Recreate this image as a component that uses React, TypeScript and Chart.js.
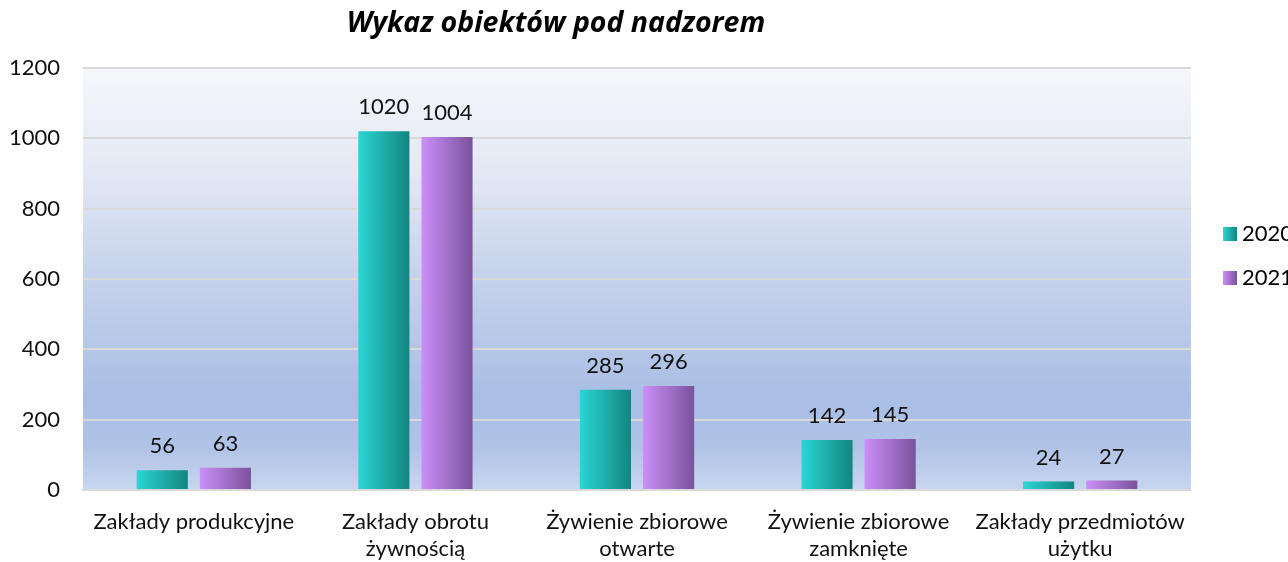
import React, { useEffect, useRef } from "react";
import { Chart, registerables } from "chart.js";

Chart.register(...registerables);

const title = "Wykaz obiektów pod nadzorem";
const categories: (string | string[])[] = [
  "Zakłady produkcyjne",
  ["Zakłady obrotu", "żywnością"],
  ["Żywienie zbiorowe", "otwarte"],
  ["Żywienie zbiorowe", "zamknięte"],
  ["Zakłady przedmiotów", "użytku"],
];
const seriesLabels = ["2020", "2021"];
const values2020 = [56, 1020, 285, 142, 24];
const values2021 = [63, 1004, 296, 145, 27];
const yMin = 0;
const yMax = 1200;
const yStep = 200;

const FONT = "Lato, 'Open Sans', sans-serif";
const TITLE_FONT = "'Open Sans', Lato, sans-serif";
const CAT_PCT = 0.57;
const BAR_PCT = 0.81;
const gradStops = [
  ["#2ad6d4", "#138580"],
  ["#cc8ff9", "#7a529c"],
];

function makeBox(colors: string[]) {
  const c = document.createElement("canvas");
  c.width = 14;
  c.height = 14;
  const g = c.getContext("2d")!;
  const lg = g.createLinearGradient(0, 0, 14, 0);
  lg.addColorStop(0, colors[0]);
  lg.addColorStop(1, colors[1]);
  g.fillStyle = lg;
  g.fillRect(0, 0, 14, 14);
  return c;
}

function barFill(ctx: any) {
  const chart = ctx.chart;
  const colors = gradStops[ctx.datasetIndex] || gradStops[0];
  const xs = chart.scales && chart.scales.x;
  if (!xs || ctx.type !== "data" || !chart.chartArea) return colors[0];
  const catW = xs.width / categories.length;
  const slot = (catW * CAT_PCT) / 2;
  const center = xs.getPixelForValue(ctx.dataIndex) + (ctx.datasetIndex - 0.5) * slot;
  const w = slot * BAR_PCT;
  const g = chart.ctx.createLinearGradient(center - w / 2, 0, center + w / 2, 0);
  g.addColorStop(0, colors[0]);
  g.addColorStop(1, colors[1]);
  return g;
}

const bgPlugin = {
  id: "bgPlugin",
  beforeDraw(chart: any) {
    const a = chart.chartArea;
    if (!a) return;
    const ctx = chart.ctx;
    const g = ctx.createLinearGradient(0, a.top, 0, a.bottom);
    g.addColorStop(0, "#f6f7fb");
    g.addColorStop(0.25, "#e2e8f4");
    g.addColorStop(0.5, "#c5d2eb");
    g.addColorStop(0.78, "#a9bee5");
    g.addColorStop(0.9, "#b0c3e7");
    g.addColorStop(1, "#c8d6ee");
    ctx.save();
    ctx.fillStyle = g;
    ctx.fillRect(a.left, a.top, a.right - a.left, a.bottom - a.top);
    ctx.restore();
  },
};

const labelPlugin = {
  id: "labelPlugin",
  afterDatasetsDraw(chart: any) {
    const ctx = chart.ctx;
    ctx.save();
    ctx.font = `22px ${FONT}`;
    ctx.fillStyle = "#111";
    ctx.textAlign = "center";
    ctx.textBaseline = "middle";
    chart.data.datasets.forEach((ds: any, di: number) => {
      const meta = chart.getDatasetMeta(di);
      meta.data.forEach((el: any, i: number) => {
        ctx.fillText(String(ds.data[i]), el.x, el.y - 24);
      });
    });
    ctx.restore();
  },
  afterDraw(chart: any) {
    const ctx = chart.ctx;
    ctx.save();
    let size = 24;
    ctx.font = `italic bold ${size}px ${TITLE_FONT}`;
    const w = ctx.measureText(title).width;
    size = Math.round(size * (418 / w) * 10) / 10;
    ctx.font = `italic bold ${size}px ${TITLE_FONT}`;
    ctx.fillStyle = "#000";
    ctx.textAlign = "center";
    ctx.textBaseline = "alphabetic";
    ctx.fillText(title, 556, 32);
    ctx.restore();
  },
  afterLayout(chart: any) {
    const lg = chart.legend;
    if (lg) {
      lg.top -= 69;
      lg.bottom -= 69;
      lg.left += 16;
      lg.right += 16;
    }
  },
};

export default function App() {
  const ref = useRef<HTMLCanvasElement | null>(null);
  useEffect(() => {
    if (!ref.current) return;
    const boxes = gradStops.map(makeBox);
    const chart = new Chart(ref.current, {
      type: "bar",
      data: {
        labels: categories,
        datasets: [
          { label: seriesLabels[0], data: values2020, backgroundColor: barFill, categoryPercentage: CAT_PCT, barPercentage: BAR_PCT },
          { label: seriesLabels[1], data: values2021, backgroundColor: barFill, categoryPercentage: CAT_PCT, barPercentage: BAR_PCT },
        ],
      },
      options: {
        animation: false,
        responsive: true,
        maintainAspectRatio: false,
        layout: { padding: { top: 68, left: -14, right: 1, bottom: -19 } },
        plugins: {
          title: { display: false },
          tooltip: { enabled: false },
          legend: {
            position: "right",
            labels: {
              usePointStyle: true,
              pointStyleWidth: 2,
              padding: 22,
              color: "#111",
              font: { family: FONT, size: 22 },
              generateLabels: () =>
                seriesLabels.map((t, i) => ({
                  text: t,
                  pointStyle: boxes[i],
                  fillStyle: gradStops[i][0],
                  strokeStyle: "transparent",
                  lineWidth: 0,
                  hidden: false,
                  datasetIndex: i,
                })),
            },
          },
        },
        scales: {
          x: {
            grid: { display: false, drawTicks: false },
            border: { display: true, color: "#d9d9d9", width: 2 },
            ticks: {
              color: "#111",
              padding: 18,
              maxRotation: 0,
              autoSkip: false,
              font: { family: FONT, size: 22, lineHeight: 1.25 },
            },
          },
          y: {
            min: yMin,
            max: yMax,
            grid: { color: "#d9d9d9", lineWidth: 2, drawTicks: false },
            border: { display: false },
            ticks: {
              stepSize: yStep,
              color: "#111",
              padding: 23,
              font: { family: FONT, size: 22 },
              callback: (v: any) => String(v),
            },
          },
        },
      },
      plugins: [bgPlugin, labelPlugin],
    });
    return () => chart.destroy();
  }, []);
  return (
    <div style={{ position: "absolute", left: 0, top: 0, width: 1288, height: 562, background: "#fff" }}>
      <canvas ref={ref} />
    </div>
  );
}
